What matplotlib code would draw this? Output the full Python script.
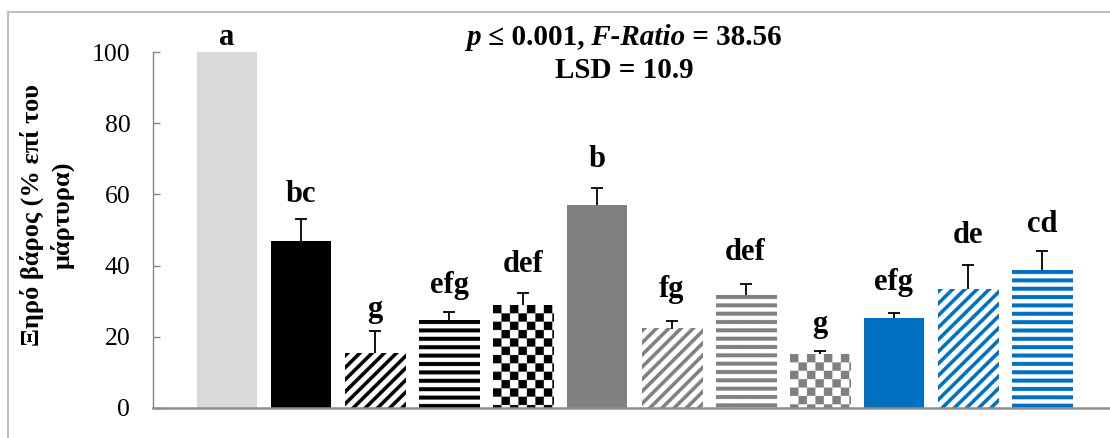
import matplotlib

matplotlib.use("Agg")

import matplotlib.pyplot as plt
import numpy as np
from matplotlib.lines import Line2D
from matplotlib.offsetbox import AnnotationBbox, HPacker, TextArea, VPacker


# dry weight as % of control, one bar per treatment
values = [100.0, 47.0, 15.4, 24.5, 28.9, 57.0, 22.2, 31.7, 15.1, 25.3, 33.3, 38.7]
errors = [0.3, 6.1, 6.2, 2.6, 3.5, 4.9, 2.2, 3.0, 1.0, 1.5, 6.8, 5.4]
letters = ["a", "bc", "g", "efg", "def", "b", "fg", "def", "g", "efg", "de", "cd"]

colors = [
    "#d9d9d9", "#000000", "#000000", "#000000", "#000000", "#808080",
    "#808080", "#808080", "#808080", "#0070c0", "#0070c0", "#0070c0",
]
fills = [
    "solid", "solid", "diag", "hstripe", "checker", "solid",
    "diag", "hstripe", "checker", "solid", "diag", "hstripe",
]

y_ticks = [0, 20, 40, 60, 80, 100]
y_label = "Ξηρό βάρος (% επί του\nμάρτυρα)"

# gap between the error-bar cap and its letter, in pixels
letter_gap_px = [6, 17, 14, 19, 21, 21, 24, 24, 19, 23, 22, 19]

W, H = 1110, 438
SUB = 3  # texture supersampling
FONT = "Liberation Serif"

plt.rcParams["font.family"] = "serif"
plt.rcParams["font.serif"] = [FONT, "DejaVu Serif"]


def fill_mask(kind, h, w):
    rows, cols = np.mgrid[0:h, 0:w]
    if kind == "diag":
        return ((rows + cols) % 36) < 15
    if kind == "hstripe":
        return (rows % 25) < 12
    if kind == "checker":
        return ((rows // 25 + cols // 25) % 2) == 0
    return np.ones((h, w), dtype=bool)


fig = plt.figure(figsize=(W / 100, H / 100), dpi=100)
ax = fig.add_axes([153 / W, 30 / H, 963 / W, 356 / H])
ax.set_xlim(-1, 12)
ax.set_ylim(0, 100)

x = np.arange(len(values))
solid = [c if f == "solid" else "white" for c, f in zip(colors, fills)]
bars = ax.bar(x, values, width=0.81, color=solid, edgecolor="none", zorder=2)

# patterned fills: an RGBA texture laid over each bar and clipped to it
for bar, kind, color in zip(bars, fills, colors):
    if kind == "solid":
        continue
    x0, w = bar.get_x(), bar.get_width()
    h = bar.get_height()
    p0 = ax.transData.transform((x0, 0))
    p1 = ax.transData.transform((x0 + w, h))
    w_px = int(round(abs(p1[0] - p0[0]) * SUB))
    h_px = int(round(abs(p1[1] - p0[1]) * SUB))
    mask = fill_mask(kind, h_px, w_px)
    rgba = np.zeros((h_px, w_px, 4))
    rgba[..., :3] = matplotlib.colors.to_rgb(color)
    rgba[..., 3] = mask.astype(float)
    ax.imshow(
        rgba,
        extent=(x0, x0 + w, 0, h),
        aspect="auto",
        interpolation="antialiased",
        clip_path=bar,
        zorder=2.5,
    )

# upper error bars only
_, caps, _ = ax.errorbar(
    x,
    values,
    yerr=[np.zeros(len(errors)), errors],
    fmt="none",
    ecolor="black",
    elinewidth=1.3,
    capsize=4.3,
    capthick=1.3,
    zorder=3,
)
caps[0].set_visible(False)

for xi, v, e, lab, gap in zip(x, values, errors, letters, letter_gap_px):
    ax.annotate(
        lab,
        xy=(xi, v + e),
        xytext=(0, gap * 0.72),
        textcoords="offset points",
        ha="center",
        va="baseline",
        family=FONT,
        fontsize=22,
        fontweight="bold",
        annotation_clip=False,
    )

ax.set_xlim(-1, 12)
ax.set_ylim(0, 100)
ax.set_yticks(y_ticks)
ax.set_yticklabels([str(t) for t in y_ticks], family=FONT, fontsize=18.5)
ax.set_xticks([])
ax.tick_params(axis="y", direction="in", length=5, width=1, color="#868686", pad=16.3)

for side in ["top", "right"]:
    ax.spines[side].set_visible(False)
ax.spines["left"].set_color("#868686")
ax.spines["left"].set_linewidth(1.0)
ax.spines["bottom"].set_color("#8c8c8c")
ax.spines["bottom"].set_linewidth(1.8)

fig.text(
    47 / W,
    1 - 215 / H,
    y_label,
    rotation=90,
    ha="center",
    va="center",
    multialignment="center",
    family=FONT,
    fontsize=19,
    fontweight="bold",
    linespacing=1.35,
)

# statistics heading
bold = dict(family=FONT, weight="bold", size=21)
bold_it = dict(bold, style="italic")
line1 = HPacker(
    children=[
        TextArea("p", textprops=bold_it),
        TextArea(" ≤ 0.001,", textprops=bold),
        TextArea(" F-Ratio", textprops=bold_it),
        TextArea(" = 38.56", textprops=bold),
    ],
    pad=0,
    sep=0,
    align="baseline",
)
line2 = TextArea("LSD = 10.9", textprops=bold)
heading = VPacker(children=[line1, line2], pad=0, sep=5, align="center")
fig.add_artist(
    AnnotationBbox(
        heading,
        (624 / W, 1 - 54 / H),
        xycoords="figure fraction",
        frameon=False,
        box_alignment=(0.5, 0.5),
    )
)

# chart-area border
border = "#bfbfbf"
fig.add_artist(Line2D([8 / W, 8 / W], [0, 1 - 12 / H], transform=fig.transFigure, color=border, lw=1.5))
fig.add_artist(Line2D([8 / W, 1], [1 - 12 / H, 1 - 12 / H], transform=fig.transFigure, color=border, lw=1.5))

fig.savefig("out.png", dpi=100)
